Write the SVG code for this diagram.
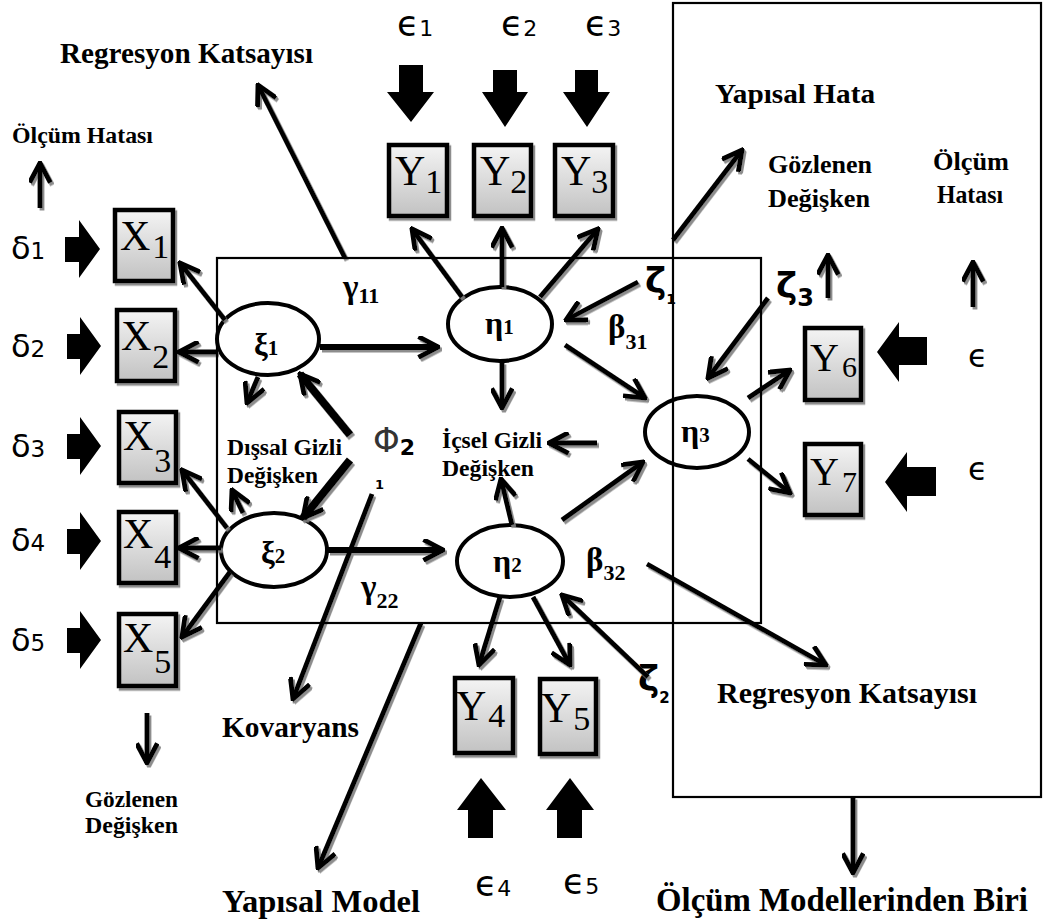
<svg xmlns="http://www.w3.org/2000/svg" width="1043" height="923" viewBox="0 0 1043 923">
<defs>
<style>
.lb{font-family:"Liberation Serif",serif;font-weight:bold;fill:#000}
.bx{font-family:"Liberation Serif",serif;fill:#000}
.gk{font-family:"Liberation Serif",serif;font-weight:bold;fill:#000}
.sy{font-family:"DejaVu Sans","Noto Sans",sans-serif;fill:#000}
.zs{font-family:"DejaVu Sans","Noto Sans",sans-serif;font-weight:bold;fill:#000}
.box{fill:url(#bg);stroke:#000;stroke-width:4.5}
.el{fill:#fff;stroke:#000;stroke-width:4}
.frame{fill:none;stroke:#000;stroke-width:2.2}
.c{stroke:#000;stroke-width:4.8;fill:none;marker-end:url(#ah)}
.c6{stroke-width:6}
.c8{stroke-width:8}
.blk{fill:#000}
</style>
<linearGradient id="bg" x1="0" y1="0" x2="0" y2="1">
<stop offset="0" stop-color="#f4f4f4"/>
<stop offset="1" stop-color="#c2c2c2"/>
</linearGradient>
<filter id="sh" filterUnits="userSpaceOnUse" x="0" y="0" width="1043" height="923">
<feDropShadow dx="2" dy="2.5" stdDeviation="0.7" flood-color="#808080" flood-opacity="0.9"/>
</filter>
<marker id="ah" markerUnits="userSpaceOnUse" viewBox="0 0 10 10" refX="9" refY="5" markerWidth="23" markerHeight="23" orient="auto">
<path d="M0.5,0.5 L9,5 L0.5,9.5" fill="none" stroke="#000" stroke-width="2.1"/>
</marker>
</defs>
<rect width="1043" height="923" fill="#fff"/>

<!-- latent variables -->
<g id="xi1"><ellipse class="el" cx="268" cy="339" rx="51" ry="36"/><text class="gk" x="254" y="355" font-size="31">ξ<tspan font-size="21">1</tspan></text></g>
<g id="xi2"><ellipse class="el" cx="274" cy="550" rx="53" ry="37"/><text class="gk" x="261" y="563" font-size="31">ξ<tspan font-size="21">2</tspan></text></g>
<g id="eta1"><ellipse class="el" cx="500" cy="324" rx="52" ry="37"/><text class="gk" x="485" y="334" font-size="32">η<tspan font-size="21">1</tspan></text></g>
<g id="eta2"><ellipse class="el" cx="510" cy="561" rx="53" ry="36"/><text class="gk" x="493" y="572" font-size="32">η<tspan font-size="21">2</tspan></text></g>
<g id="eta3"><ellipse class="el" cx="697" cy="432" rx="52" ry="36"/><text class="gk" x="681" y="442" font-size="32">η<tspan font-size="21">3</tspan></text></g>

<!-- observed X -->
<g id="X1"><rect class="box" filter="url(#sh)" x="115" y="210" width="58" height="71"/><text class="bx" x="120" y="250" font-size="42">X<tspan font-size="34" dx="2" dy="8">1</tspan></text></g>
<g id="X2"><rect class="box" filter="url(#sh)" x="117" y="310" width="58" height="71"/><text class="bx" x="121" y="350" font-size="42">X<tspan font-size="34" dx="1" dy="18">2</tspan></text></g>
<g id="X3"><rect class="box" filter="url(#sh)" x="119" y="412" width="57" height="71"/><text class="bx" x="123" y="450" font-size="42">X<tspan font-size="34" dx="1" dy="22">3</tspan></text></g>
<g id="X4"><rect class="box" filter="url(#sh)" x="119" y="512" width="57" height="71"/><text class="bx" x="123" y="548" font-size="42">X<tspan font-size="34" dx="1" dy="20">4</tspan></text></g>
<g id="X5"><rect class="box" filter="url(#sh)" x="119" y="614" width="57" height="72"/><text class="bx" x="123" y="652" font-size="42">X<tspan font-size="34" dx="1" dy="21">5</tspan></text></g>

<!-- observed Y -->
<g id="Y1"><rect class="box" filter="url(#sh)" x="389" y="145" width="58" height="71"/><text class="bx" x="395" y="185" font-size="42">Y<tspan font-size="34" dy="8">1</tspan></text></g>
<g id="Y2"><rect class="box" filter="url(#sh)" x="474" y="145" width="57" height="71"/><text class="bx" x="480" y="185" font-size="42">Y<tspan font-size="34" dy="8">2</tspan></text></g>
<g id="Y3"><rect class="box" filter="url(#sh)" x="555" y="145" width="58" height="71"/><text class="bx" x="561" y="185" font-size="42">Y<tspan font-size="34" dy="8">3</tspan></text></g>
<g id="Y4"><rect class="box" filter="url(#sh)" x="455" y="678" width="58" height="75"/><text class="bx" x="456" y="720" font-size="42">Y<tspan font-size="34" dx="2" dy="7">4</tspan></text></g>
<g id="Y5"><rect class="box" filter="url(#sh)" x="540" y="679" width="56" height="75"/><text class="bx" x="541" y="722" font-size="42">Y<tspan font-size="34" dx="2" dy="8">5</tspan></text></g>
<g id="Y6"><rect class="box" filter="url(#sh)" x="805" y="328" width="56" height="72"/><text class="bx" x="810" y="371" font-size="40">Y<tspan font-size="30" dx="3" dy="6">6</tspan></text></g>
<g id="Y7"><rect class="box" filter="url(#sh)" x="805" y="444" width="56" height="71"/><text class="bx" x="810" y="485" font-size="40">Y<tspan font-size="30" dx="3" dy="7">7</tspan></text></g>

<!-- error terms with block arrows -->
<g id="delta1"><text class="sy" x="11" y="259" font-size="32">δ<tspan font-size="23">1</tspan></text><polygon class="blk" points="65,237 79,237 79,220 100,249 79,278 79,262 65,262"/></g>
<g id="delta2"><text class="sy" x="11" y="357" font-size="32">δ<tspan font-size="23">2</tspan></text><polygon class="blk" points="67,334 80,334 80,317 101,346 80,375 80,359 67,359"/></g>
<g id="delta3"><text class="sy" x="11" y="457" font-size="32">δ<tspan font-size="23">3</tspan></text><polygon class="blk" points="67,434 80,434 80,417 101,446 80,475 80,459 67,459"/></g>
<g id="delta4"><text class="sy" x="11" y="551" font-size="32">δ<tspan font-size="23">4</tspan></text><polygon class="blk" points="67,529 80,529 80,512 101,541 80,570 80,554 67,554"/></g>
<g id="delta5"><text class="sy" x="11" y="651" font-size="32">δ<tspan font-size="23">5</tspan></text><polygon class="blk" points="67,628 80,628 80,611 101,640 80,669 80,653 67,653"/></g>

<g id="eps1"><text class="sy" x="397" y="36" font-size="36">ϵ<tspan font-size="22">1</tspan></text><polygon class="blk" points="399,65 423,65 423,92 434,92 411,122 387,92 399,92"/></g>
<g id="eps2"><text class="sy" x="501" y="36" font-size="36">ϵ<tspan font-size="22">2</tspan></text><polygon class="blk" points="493,70 517,70 517,92 528,92 505,127 482,92 493,92"/></g>
<g id="eps3"><text class="sy" x="585" y="36" font-size="36">ϵ<tspan font-size="22">3</tspan></text><polygon class="blk" points="575,70 598,70 598,92 610,92 587,127 563,92 575,92"/></g>
<g id="eps4"><text class="sy" x="475" y="896" font-size="36">ϵ<tspan font-size="22">4</tspan></text><polygon class="blk" points="468,838 493,838 493,810 506,810 481,778 457,810 468,810"/></g>
<g id="eps5"><text class="sy" x="563" y="894" font-size="36">ϵ<tspan font-size="22">5</tspan></text><polygon class="blk" points="557,838 582,838 582,810 594,810 570,778 546,810 557,810"/></g>
<g id="eps6"><text class="sy" x="968" y="367" font-size="32">ϵ</text><polygon class="blk" points="927,337 899,337 899,322 877,352 899,382 899,365 927,365"/></g>
<g id="eps7"><text class="sy" x="968" y="480" font-size="32">ϵ</text><polygon class="blk" points="936,467 907,467 907,452 885,482 907,512 907,496 936,496"/></g>

<!-- coefficient labels -->
<g id="gamma11"><text class="gk" x="343" y="298" font-size="33">γ<tspan font-size="22" dy="5">11</tspan></text></g>
<g id="gamma22"><text class="gk" x="361" y="598" font-size="33">γ<tspan font-size="22" dy="10">22</tspan></text></g>
<g id="beta31"><text class="gk" x="608" y="338" font-size="33">β<tspan font-size="22" dy="11">31</tspan></text></g>
<g id="beta32"><text class="gk" x="586" y="571" font-size="33">β<tspan font-size="22" dy="9">32</tspan></text></g>
<g id="zeta1"><text class="zs" x="645" y="293" font-size="36">ζ<tspan font-size="14" dy="11">1</tspan></text></g>
<g id="zeta2"><text class="zs" x="638" y="691" font-size="36">ζ<tspan font-size="15" dy="12">2</tspan></text></g>
<g id="zeta3"><text class="zs" x="776" y="298" font-size="36">ζ<tspan font-size="24" dy="8">3</tspan></text></g>
<g id="phi2"><text class="sy" x="373" y="452" font-size="34" style="fill:#333">Φ<tspan class="zs" font-size="22" dy="3">2</tspan></text><text class="zs" x="375" y="489" font-size="13">1</text></g>

<!-- descriptive labels -->
<g id="lbl-reg1"><text class="lb" x="60" y="63" font-size="30" textLength="253" lengthAdjust="spacingAndGlyphs">Regresyon Katsayısı</text></g>
<g id="lbl-olcum1"><text class="lb" x="12" y="143" font-size="23" textLength="141" lengthAdjust="spacingAndGlyphs">Ölçüm Hatası</text></g>
<g id="lbl-yhata"><text class="lb" x="715" y="103" font-size="27" textLength="160" lengthAdjust="spacingAndGlyphs">Yapısal Hata</text></g>
<g id="lbl-gozlenen1"><text class="lb" x="768" y="173" font-size="26" textLength="104" lengthAdjust="spacingAndGlyphs">Gözlenen</text><text class="lb" x="768" y="207" font-size="26" textLength="102" lengthAdjust="spacingAndGlyphs">Değişken</text></g>
<g id="lbl-olcum2"><text class="lb" x="933" y="170" font-size="26" textLength="76" lengthAdjust="spacingAndGlyphs">Ölçüm</text><text class="lb" x="937" y="203" font-size="26" textLength="66" lengthAdjust="spacingAndGlyphs">Hatası</text></g>
<g id="lbl-dissal"><text class="lb" x="227" y="455" font-size="23" textLength="115" lengthAdjust="spacingAndGlyphs">Dışsal Gizli</text><text class="lb" x="227" y="483" font-size="23" textLength="91" lengthAdjust="spacingAndGlyphs">Değişken</text></g>
<g id="lbl-icsel"><text class="lb" x="442" y="448" font-size="23" textLength="100" lengthAdjust="spacingAndGlyphs">İçsel Gizli</text><text class="lb" x="442" y="476" font-size="23" textLength="92" lengthAdjust="spacingAndGlyphs">Değişken</text></g>
<g id="lbl-gozlenen2"><text class="lb" x="85" y="807" font-size="24" textLength="93" lengthAdjust="spacingAndGlyphs">Gözlenen</text><text class="lb" x="85" y="833" font-size="24" textLength="93" lengthAdjust="spacingAndGlyphs">Değişken</text></g>
<g id="lbl-kov"><text class="lb" x="222" y="737" font-size="29" textLength="137" lengthAdjust="spacingAndGlyphs">Kovaryans</text></g>
<g id="lbl-ymodel"><text class="lb" x="222" y="912" font-size="32" textLength="198" lengthAdjust="spacingAndGlyphs">Yapısal Model</text></g>
<g id="lbl-reg2"><text class="lb" x="717" y="703" font-size="30" textLength="260" lengthAdjust="spacingAndGlyphs">Regresyon Katsayısı</text></g>
<g id="lbl-olcmodel"><text class="lb" x="656" y="911" font-size="33" textLength="372" lengthAdjust="spacingAndGlyphs">Ölçüm Modellerinden Biri</text></g>

<!-- connectors -->
<g id="connectors" filter="url(#sh)">
<line class="c" x1="225" y1="320" x2="180" y2="263"/>
<line class="c" x1="217" y1="352" x2="179" y2="352"/>
<line class="c" x1="258" y1="377" x2="247" y2="403"/>
<line class="c" x1="227" y1="528" x2="182" y2="470"/>
<line class="c" x1="243" y1="513" x2="232" y2="490"/>
<line class="c" x1="221" y1="548" x2="179" y2="548"/>
<line class="c" x1="230" y1="572" x2="182" y2="637"/>
<line class="c c8" x1="350" y1="435" x2="300" y2="374"/>
<line class="c c8" x1="350" y1="460" x2="303" y2="518"/>
<line class="c c6" x1="320" y1="347" x2="438" y2="347"/>
<line class="c c6" x1="328" y1="550" x2="443" y2="550"/>
<line class="c" x1="462" y1="297" x2="412" y2="229"/>
<line class="c" x1="502" y1="287" x2="502" y2="228"/>
<line class="c" x1="540" y1="297" x2="598" y2="229"/>
<line class="c" x1="502" y1="362" x2="502" y2="408"/>
<line class="c" x1="565" y1="345" x2="645" y2="398"/>
<line class="c" x1="638" y1="282" x2="566" y2="320"/>
<line class="c" x1="597" y1="443" x2="549" y2="443"/>
<line class="c" x1="512" y1="525" x2="501" y2="479"/>
<line class="c" x1="562" y1="520" x2="643" y2="462"/>
<line class="c" x1="500" y1="597" x2="479" y2="665"/>
<line class="c" x1="533" y1="597" x2="570" y2="665"/>
<line class="c" x1="648" y1="677" x2="562" y2="595"/>
<line class="c" x1="768" y1="298" x2="708" y2="378"/>
<line class="c" x1="748" y1="398" x2="790" y2="370"/>
<line class="c" x1="748" y1="459" x2="790" y2="493"/>
<line class="c" x1="345" y1="258" x2="258" y2="85"/>
<line class="c" x1="673" y1="240" x2="742" y2="150"/>
<line class="c" x1="372" y1="494" x2="293" y2="699"/>
<line class="c" x1="421" y1="623" x2="318" y2="868"/>
<line class="c" x1="647" y1="564" x2="826" y2="665"/>
<line class="c" x1="40" y1="208" x2="40" y2="163"/>
<line class="c" x1="147" y1="713" x2="147" y2="763"/>
<line class="c" x1="828" y1="298" x2="828" y2="255"/>
<line class="c" x1="973" y1="307" x2="973" y2="262"/>
<line class="c" x1="853" y1="797" x2="853" y2="873"/>
</g>

<!-- frames -->
<g id="structural-frame"><rect class="frame" x="217" y="258" width="544" height="365"/></g>
<g id="measurement-frame"><rect class="frame" x="673" y="3" width="368" height="794"/></g>
</svg>
